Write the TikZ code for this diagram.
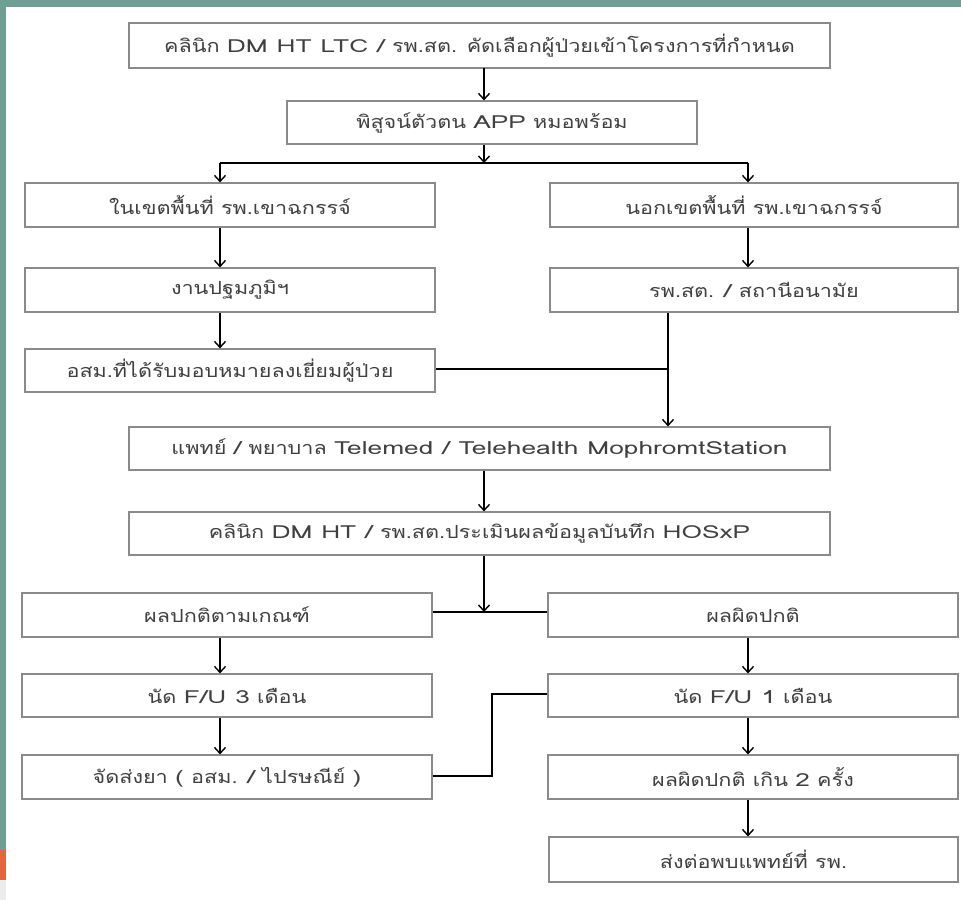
\documentclass[tikz,border=0pt]{standalone}
\usepackage{fontspec}
\setmainfont[Script=Thai, FakeStretch=1.2]{Loma}
\newfontfamily\latf[FakeStretch=1.46]{Loma}
\newcommand{\lt}[1]{{\latf #1}}
\usetikzlibrary{arrows.meta}
\definecolor{teal1}{HTML}{6E9E94}
\definecolor{orng}{HTML}{E5663D}
\definecolor{boxgray}{HTML}{8A8A8A}
\definecolor{txt}{HTML}{404040}
\tikzset{
  box/.style={draw=boxgray, line width=1.1bp, fill=white, inner sep=0pt, text=txt, font=\fontsize{18bp}{21bp}\selectfont},
  arr/.style={-{Straight Barb[length=6bp,width=11bp,line width=1.4bp]}, line width=1.8bp, black},
  conn/.style={line width=1.6bp, black}
}
\newcommand{\bx}[6]{% name, x1, y1, x2, y2, text
  \node[box, minimum width={(#4-#2)*1bp}, minimum height={(#5-#3)*1bp}] (#1) at ({(#2+#4)/2},{(#3+#5)/2}) {#6};}
\begin{document}
\begin{tikzpicture}[x=1bp,y=-1bp]
\useasboundingbox (0,0) rectangle (961,900);
\fill[white] (0,0) rectangle (961,900);
\fill[teal1] (0,0) rectangle (961,7);
\fill[teal1] (0,0) rectangle (6,850);
\fill[orng] (0,850) rectangle (6,880);
\fill[gray!15] (0,880) rectangle (6,900);

\bx{a}{129}{23}{830}{68}{คลินิก \lt{DM HT LTC /} รพ.สต. คัดเลือกผู้ป่วยเข้าโครงการที่กำหนด}
\bx{b}{287}{101}{697}{144}{พิสูจน์ตัวตน \lt{APP} หมอพร้อม}
\bx{c1}{25}{183}{435}{227}{ในเขตพื้นที่ รพ.เขาฉกรรจ์}
\bx{c2}{550}{183}{958}{227}{นอกเขตพื้นที่ รพ.เขาฉกรรจ์}
\bx{d1}{25}{268}{435}{312}{งานปฐมภูมิฯ}
\bx{d2}{550}{268}{958}{312}{รพ.สต. \lt{/} สถานีอนามัย}
\bx{e1}{25}{349}{435}{392}{อสม.ที่ได้รับมอบหมายลงเยี่ยมผู้ป่วย}
\bx{f}{129}{427}{830}{470}{แพทย์ \lt{/} พยาบาล \lt{Telemed / Telehealth MophromtStation}}
\bx{g}{129}{512}{830}{555}{คลินิก \lt{DM HT /} รพ.สต.ประเมินผลข้อมูลบันทึก \lt{HOSxP}}
\bx{h1}{22}{593}{432}{637}{ผลปกติตามเกณฑ์}
\bx{h2}{548}{593}{958}{637}{ผลผิดปกติ}
\bx{i1}{22}{674}{432}{717}{นัด \lt{F/U 3} เดือน}
\bx{i2}{548}{674}{958}{717}{นัด \lt{F/U 1} เดือน}
\bx{j1}{22}{755}{432}{799}{จัดส่งยา \lt{(} อสม. \lt{/} ไปรษณีย์ \lt{)}}
\bx{j2}{548}{755}{958}{799}{ผลผิดปกติ เกิน \lt{2} ครั้ง}
\bx{k2}{549}{837}{958}{882}{ส่งต่อพบแพทย์ที่ รพ.}

\coordinate (s1) at (484,163);
\coordinate (jn) at (668,369);
\coordinate (m1) at (484,612);
\coordinate (bend1) at (492,776);
\coordinate (bend2) at (492,694);

\draw[arr] (484,68) -- (b.north -| 484,0);
\draw[arr] (b.south -| 484,0) -- (s1);
\draw[conn] (220,163) -- (748,163);
\draw[arr] (220,163) -- (c1.north -| 220,0);
\draw[arr] (748,163) -- (c2.north -| 748,0);
\draw[arr] (c1.south -| 220,0) -- (d1.north -| 220,0);
\draw[arr] (c2.south -| 748,0) -- (d2.north -| 748,0);
\draw[arr] (d1.south -| 220,0) -- (e1.north -| 220,0);
\draw[conn] (e1.east |- jn) -- (jn);
\draw[arr] (d2.south -| jn) -- (f.north -| jn);
\draw[arr] (f.south -| 484,0) -- (g.north -| 484,0);
\draw[arr] (g.south -| 484,0) -- (m1);
\draw[conn] (h1.east |- m1) -- (h2.west |- m1);
\draw[arr] (h1.south -| 220,0) -- (i1.north -| 220,0);
\draw[arr] (h2.south -| 748,0) -- (i2.north -| 748,0);
\draw[arr] (i1.south -| 220,0) -- (j1.north -| 220,0);
\draw[arr] (i2.south -| 748,0) -- (j2.north -| 748,0);
\draw[arr] (j2.south -| 748,0) -- (k2.north -| 748,0);
\draw[conn] (j1.east |- bend1) -- (bend1) -- (bend2) -- (i2.west |- bend2);
\end{tikzpicture}
\end{document}
